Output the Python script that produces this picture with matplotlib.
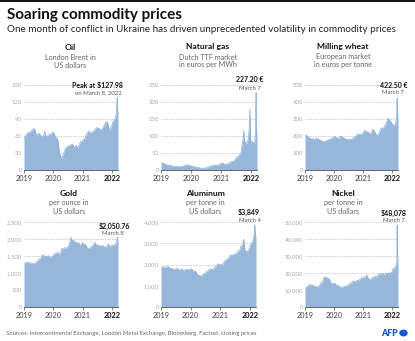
import matplotlib
matplotlib.use("Agg")
import matplotlib.pyplot as plt
import matplotlib.dates as mdates
from matplotlib.ticker import FuncFormatter, FixedLocator
from matplotlib.patches import Rectangle, Circle
import pandas as pd

plt.rcParams['font.family'] = ['Lato', 'DejaVu Sans']

# ---------------- data ----------------
base_dates = [f"{y}-{m:02d}-{d:02d}" for y in range(2019, 2023) for m in range(1, 13) for d in (1, 15)
              if f"{y}-{m:02d}-{d:02d}" <= "2022-02-15"]
tail_dates = ["2022-03-01", "2022-03-04", "2022-03-07", "2022-03-08", "2022-03-10", "2022-03-14", "2022-03-18"]

oil = [54, 60, 62, 66, 65, 67, 69, 71, 73, 72, 62, 62, 65, 64, 60, 59, 59, 68, 59, 59, 62, 63, 62, 66,
       66, 64, 56, 57, 52, 33, 25, 20, 26, 32, 38, 40, 42, 43, 44, 45, 45, 41, 41, 43, 38, 44, 48, 51,
       51, 55, 56, 63, 64, 69, 64, 67, 67, 68, 71, 74, 75, 73, 73, 70, 72, 76, 79, 85, 85, 80, 69, 74,
       79, 86, 89, 93]
oil_tail = [105, 118, 124, 127.98, 111, 102, 107]

gas = [22, 21, 20, 18, 16, 15, 14, 15, 13, 12, 11, 10, 10, 11, 10, 10, 11, 11, 12, 13, 15, 15, 14, 13,
       13, 11, 10, 9, 9, 8, 7, 6, 5, 5, 5, 6, 6, 7, 8, 11, 12, 12, 14, 14, 14, 13, 15, 17,
       19, 21, 19, 17, 16, 18, 19, 21, 24, 25, 26, 28, 34, 38, 40, 45, 50, 70, 95, 90, 75, 80, 90, 125,
       75, 85, 80, 72]
gas_tail = [120, 190, 227.2, 180, 130, 110, 105]
gas_extra = {"2021-10-06": 116, "2021-12-21": 180}

wheat = [205, 206, 200, 193, 188, 185, 182, 185, 180, 182, 188, 182, 178, 175, 172, 168, 167, 170, 173, 176, 180, 182, 185, 190,
         193, 198, 190, 188, 185, 195, 200, 195, 188, 185, 182, 180, 180, 183, 180, 182, 188, 192, 200, 208, 212, 210, 208, 212,
         215, 232, 230, 228, 222, 218, 212, 215, 240, 235, 220, 210, 205, 208, 230, 245, 248, 242, 260, 270, 290, 305, 295, 285,
         275, 265, 265, 268]
wheat_tail = [330, 360, 422.5, 390, 350, 330, 320]

gold = [1282, 1290, 1318, 1320, 1295, 1300, 1292, 1285, 1280, 1295, 1310, 1345, 1390, 1412, 1440, 1520, 1530, 1500, 1480, 1490, 1510, 1470, 1465, 1480,
        1520, 1555, 1585, 1585, 1610, 1520, 1590, 1720, 1700, 1740, 1740, 1725, 1780, 1810, 1975, 1945, 1970, 1955, 1890, 1905, 1880, 1890, 1780, 1855,
        1895, 1830, 1860, 1790, 1725, 1730, 1720, 1765, 1790, 1845, 1900, 1860, 1775, 1825, 1810, 1780, 1815, 1795, 1760, 1770, 1790, 1865, 1780, 1780,
        1830, 1815, 1800, 1855]
gold_tail = [1940, 1970, 1998, 2050.76, 2000, 1955, 1935]
gold_extra = {"2020-08-07": 2060}

alu = [1850, 1870, 1890, 1860, 1880, 1880, 1900, 1860, 1810, 1830, 1760, 1770, 1790, 1830, 1760, 1750, 1750, 1800, 1720, 1720, 1760, 1770, 1750, 1770,
       1800, 1790, 1690, 1700, 1680, 1610, 1500, 1480, 1470, 1460, 1540, 1580, 1600, 1660, 1690, 1760, 1790, 1760, 1780, 1830, 1880, 1950, 2030, 2020,
       1980, 1990, 1990, 2100, 2180, 2210, 2260, 2300, 2440, 2430, 2450, 2450, 2510, 2470, 2600, 2620, 2700, 2880, 2900, 3100, 2700, 2600, 2600, 2680,
       2800, 3000, 3000, 3280]
alu_tail = [3500, 3849, 3550, 3450, 3400, 3300, 3450]
alu_extra = {"2021-10-18": 3180}

nickel = [10700, 11500, 12200, 12800, 13100, 13000, 12900, 12700, 12200, 12100, 11900, 11900, 12400, 14000, 14500, 15500, 17700, 17500, 17200, 16500, 16800, 15000, 13600, 14000,
          14000, 13800, 12700, 12800, 12500, 11700, 11400, 11700, 12000, 12200, 12300, 12800, 12900, 13600, 14000, 14700, 15400, 15000, 14500, 15700, 15400, 16200, 16400, 17500,
          16500, 17900, 17700, 18800, 17600, 16300, 16000, 16400, 17500, 17600, 18000, 17600, 18400, 19100, 19400, 19400, 19500, 19700, 18300, 20000, 19600, 20000, 20100, 19800,
          20700, 22600, 22400, 24000]
nickel_tail = [25500, 29000, 48078, 38000, 32000, 30000, 30000]

titles = ["Oil", "Natural gas", "Milling wheat", "Gold", "Aluminum", "Nickel"]
subtitles = [["London Brent in", "US dollars"], ["Dutch TTF market", "in euros per MWh"],
             ["European market", "in euros per tonne"], ["per ounce in", "US dollars"],
             ["per tonne in", "US dollars"], ["per tonne in", "US dollars"]]
ymax = [150, 250, 500, 2500, 4000, 50000]
ystep = [30, 50, 100, 500, 1000, 10000]
ann_value = ["Peak at $127.98", "227.20 €", "422.50 €", "$2,050.76", "$3,849", "$48,078"]
ann_date = ["on March 8, 2022", "March 7", "March 7", "March 8", "March 4", "March 7"]
year_labels = ["2019", "2020", "2021", "2022"]

series = [(oil, oil_tail, {}), (gas, gas_tail, gas_extra), (wheat, wheat_tail, {}),
          (gold, gold_tail, gold_extra), (alu, alu_tail, alu_extra), (nickel, nickel_tail, {})]

# ---------------- layout ----------------
W, H = 415, 341
fig = plt.figure(figsize=(W / 100, H / 100), dpi=100)
fig.patch.set_facecolor('white')

def fx(x):
    return x / W

def fy(y):
    return 1 - y / H

fig.add_artist(Rectangle((0, fy(2.2)), 1, 2.2 / H, transform=fig.transFigure, color='#111111', lw=0))
fig.text(fx(7), fy(15.5), "Soaring commodity prices", fontsize=11.0, fontweight='bold', color='#111111', va='center', ha='left')
fig.text(fx(7), fy(29.5), "One month of conflict in Ukraine has driven unprecedented volatility in commodity prices",
         fontsize=7.1, color='#222222', va='center', ha='left')
fig.text(fx(6), fy(333), "Sources: Intercontinental Exchange, London Metal Exchange, Bloomberg, Factset, closing prices",
         fontsize=4.3, color='#666666', va='center', ha='left')
fig.text(fx(398), fy(333), "AFP", fontsize=6.2, fontweight='heavy', color='#1559c9', va='center', ha='right')
fig.add_artist(Circle((fx(403.5), fy(333)), 4.2 / W, transform=fig.transFigure, color='#1559c9', lw=0))

axes_px = [(24, 85, 118, 170), (161, 85, 257, 170), (305, 85, 398, 170),
           (24, 222, 118, 307), (161, 222, 256, 307), (305, 222, 398, 307)]
title_xy = [(70, 47), (208, 47), (343, 47), (69, 193), (205, 193), (343, 193)]
val_pos = [(123, 85, 'right'), (250, 80, 'center'), (394, 85, 'center'),
           (114, 226, 'center'), (249, 212, 'center'), (394, 213, 'center')]
date_pos = [(122, 93, 'right'), (250, 88, 'center'), (393, 93, 'center'),
            (113, 233.5, 'center'), (250, 220, 'center'), (394, 221, 'center')]

fill_color = '#96b6da'

for i, (vals, tail, extra) in enumerate(series):
    x0, yt, x1, yb = axes_px[i]
    ax = fig.add_axes([fx(x0), fy(yb), (x1 - x0) / W, (yb - yt) / H])
    s = pd.Series(list(vals) + list(tail), index=pd.to_datetime(base_dates + tail_dates))
    if extra:
        s = pd.concat([s, pd.Series(list(extra.values()), index=pd.to_datetime(list(extra.keys())))]).sort_index()
    ax.fill_between(s.index, 0, s.values, color=fill_color, lw=0)
    ax.plot(s.index, s.values, color='#8aaed5', lw=0.5)
    ax.set_xlim(pd.Timestamp("2019-01-01"), s.index[-1])
    ax.set_ylim(0, ymax[i])
    yt_vals = list(range(0, ymax[i] + 1, ystep[i]))
    ax.yaxis.set_major_locator(FixedLocator(yt_vals))
    ax.yaxis.set_major_formatter(FuncFormatter(lambda v, p: f"{int(v):,}"))
    for v in yt_vals[1:]:
        ax.axhline(v, color='#bbbbbb', lw=0.5, ls=(0, (2, 1.5)), zorder=0)
    ax.tick_params(axis='y', length=0, labelsize=4.3, labelcolor='#aaaaaa', pad=1.5)
    ax.set_xticks(pd.to_datetime([f"{y}-01-01" for y in year_labels]))
    ax.set_xticklabels(year_labels)
    ax.tick_params(axis='x', length=2.5, width=0.5, color='#555555', labelsize=5.3, labelcolor='#444444', pad=1)
    ax.get_xticklabels()[-1].set_fontweight('bold')
    ax.get_xticklabels()[-1].set_color('#111111')
    for sp in ['top', 'right', 'left']:
        ax.spines[sp].set_visible(False)
    ax.spines['bottom'].set_color('#555555')
    ax.spines['bottom'].set_linewidth(0.6)
    ax.set_facecolor('none')

    tx, ty = title_xy[i]
    fig.text(fx(tx), fy(ty), titles[i], fontsize=6.1, fontweight='bold', color='#111111', ha='center', va='center')
    for k, line in enumerate(subtitles[i]):
        fig.text(fx(tx), fy(ty + 10 + 8 * k), line, fontsize=5.2, color='#666666', ha='center', va='center')
    vx, vy, vha = val_pos[i]
    fig.text(fx(vx), fy(vy), ann_value[i], fontsize=5.0, fontweight='bold', color='#111111', ha=vha, va='center')
    dx, dy, dha = date_pos[i]
    fig.text(fx(dx), fy(dy), ann_date[i], fontsize=4.3, color='#555555', ha=dha, va='center')

fig.savefig("out.png", dpi=100)
